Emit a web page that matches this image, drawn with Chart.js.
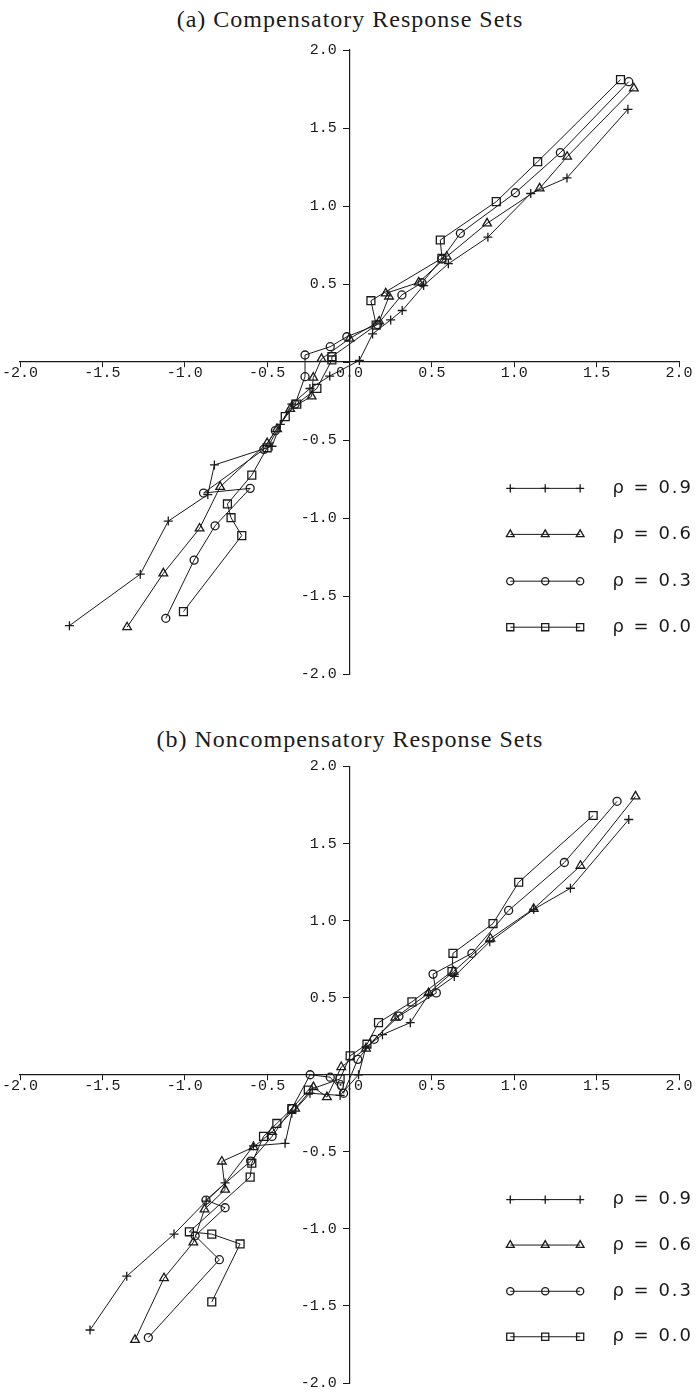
<!DOCTYPE html>
<html>
<head>
<meta charset="utf-8">
<script src="https://cdn.jsdelivr.net/npm/chart.js@4"></script>
<style>
  html, body { margin: 0; padding: 0; background: #fff; }
  #page { position: relative; width: 700px; height: 1395px; overflow: hidden; }
  .title { position: absolute; left: 0; width: 700px; text-align: center;
           font-family: "Liberation Serif", "Times New Roman", serif; font-size: 24px;
           letter-spacing: 1px; line-height: 24px; color: #1a1a1a; white-space: nowrap; }
  .box { position: absolute; left: 0; width: 700px; }
</style>
</head>
<body>
<div id="page">
  <div class="title" style="top:7px;">(a) Compensatory Response Sets</div>
  <div class="box" style="top:0; height:700px;"><canvas id="chartA" width="700" height="700"></canvas></div>
  <div class="title" style="top:727px;">(b) Noncompensatory Response Sets</div>
  <div class="box" style="top:700px; height:695px;"><canvas id="chartB" width="700" height="695"></canvas></div>
</div>
<script>
// ---------- tick labels ----------
const xTickLabels = ['-2.0', '-1.5', '-1.0', '-0.5', '0.0', '0.5', '1.0', '1.5', '2.0'];
const yTickLabels = ['-2.0', '-1.5', '-1.0', '-0.5', '', '0.5', '1.0', '1.5', '2.0'];
const seriesLabels = ['ρ = 0.9', 'ρ = 0.6', 'ρ = 0.3', 'ρ = 0.0'];

// ---------- (a) Compensatory response sets ----------
const compX_rho09 = [-1.70, -1.27, -1.10, -0.86, -0.82, -0.47, -0.42, -0.35, -0.24, -0.12, 0.06, 0.14, 0.25, 0.32, 0.45, 0.60, 0.84, 1.10, 1.32, 1.69];
const compY_rho09 = [-1.69, -1.36, -1.02, -0.85, -0.66, -0.54, -0.40, -0.27, -0.17, -0.09, 0.01, 0.18, 0.27, 0.33, 0.49, 0.63, 0.80, 1.08, 1.18, 1.62];
const compX_rho06 = [-1.35, -1.13, -0.91, -0.785, -0.50, -0.44, -0.36, -0.23, -0.22, -0.17, 0.00, 0.18, 0.24, 0.22, 0.42, 0.59, 0.835, 1.154, 1.321, 1.726];
const compY_rho06 = [-1.70, -1.355, -1.067, -0.80, -0.52, -0.43, -0.30, -0.22, -0.10, 0.02, 0.15, 0.26, 0.42, 0.44, 0.51, 0.675, 0.889, 1.113, 1.316, 1.754];
const compX_rho03 = [-1.115, -0.943, -0.816, -0.603, -0.886, -0.52, -0.45, -0.33, -0.27, -0.27, -0.117, -0.016, 0.17, 0.318, 0.44, 0.56, 0.673, 1.007, 1.28, 1.695];
const compY_rho03 = [-1.643, -1.27, -1.05, -0.81, -0.84, -0.56, -0.44, -0.27, -0.094, 0.045, 0.098, 0.162, 0.24, 0.43, 0.508, 0.66, 0.825, 1.085, 1.342, 1.797];
const compX_rho00 = [-1.008, -0.654, -0.719, -0.741, -0.593, -0.50, -0.39, -0.32, -0.198, -0.107, -0.107, 0.162, 0.13, 0.561, 0.551, 0.891, 1.142, 1.645];
const compY_rho00 = [-1.60, -1.113, -0.998, -0.91, -0.725, -0.55, -0.35, -0.27, -0.169, 0.013, 0.034, 0.237, 0.393, 0.665, 0.782, 1.028, 1.284, 1.81];

// ---------- (b) Noncompensatory response sets ----------
const noncX_rho09 = [-1.575, -1.352, -1.065, -0.87, -0.755, -0.583, -0.391, -0.35, -0.24, -0.057, 0.055, 0.10, 0.20, 0.369, 0.48, 0.636, 0.851, 1.118, 1.341, 1.695];
const noncY_rho09 = [-1.656, -1.307, -1.034, -0.82, -0.702, -0.461, -0.445, -0.25, -0.12, -0.134, 0.0, 0.18, 0.26, 0.338, 0.52, 0.638, 0.863, 1.073, 1.21, 1.656];
const noncX_rho06 = [-1.302, -1.126, -0.948, -0.88, -0.755, -0.775, -0.583, -0.47, -0.33, -0.219, -0.137, -0.05, 0.10, 0.278, 0.48, 0.632, 0.855, 1.118, 1.402, 1.736];
const noncY_rho06 = [-1.72, -1.32, -1.088, -0.873, -0.745, -0.563, -0.47, -0.37, -0.22, -0.08, -0.145, 0.05, 0.17, 0.37, 0.53, 0.67, 0.884, 1.077, 1.356, 1.806];
const noncX_rho03 = [-1.221, -0.79, -0.937, -0.755, -0.871, -0.60, -0.47, -0.35, -0.239, -0.117, -0.036, 0.05, 0.15, 0.30, 0.527, 0.507, 0.743, 0.966, 1.304, 1.624];
const noncY_rho03 = [-1.705, -1.20, -1.045, -0.863, -0.813, -0.56, -0.40, -0.22, 0.0, -0.016, -0.12, 0.10, 0.23, 0.38, 0.531, 0.653, 0.788, 1.066, 1.377, 1.774];
const noncX_rho00 = [-0.836, -0.664, -0.836, -0.972, -0.603, -0.593, -0.522, -0.441, -0.35, -0.25, -0.057, 0.004, 0.106, 0.176, 0.379, 0.622, 0.628, 0.871, 1.027, 1.479];
const noncY_rho00 = [-1.474, -1.098, -1.034, -1.019, -0.664, -0.574, -0.40, -0.316, -0.22, -0.10, -0.027, 0.123, 0.198, 0.338, 0.473, 0.67, 0.788, 0.981, 1.249, 1.682];

// ---------- styling ----------
const INK = '#1a1a1a';
const markerStyles = [
  { pointStyle: 'cross', pointRadius: 4.5 },
  { pointStyle: 'triangle', pointRadius: 5 },
  { pointStyle: 'circle', pointRadius: 4 },
  { pointStyle: 'rect', pointRadius: 5.6 }
];

function zip(xs, ys) { return xs.map((x, i) => ({ x: x, y: ys[i] })); }

function buildDatasets(pairs) {
  return pairs.map((p, i) => Object.assign({
    label: seriesLabels[i],
    data: zip(p[0], p[1]),
    showLine: true,
    borderColor: INK,
    borderWidth: 1,
    pointBorderColor: INK,
    pointBackgroundColor: 'rgba(0,0,0,0)',
    pointBorderWidth: 1.3,
    pointHoverRadius: 0
  }, markerStyles[i]));
}

function drawMarker(ctx, style, r, x, y) {
  ctx.beginPath();
  if (style === 'cross') {
    ctx.moveTo(x - r, y); ctx.lineTo(x + r, y);
    ctx.moveTo(x, y - r); ctx.lineTo(x, y + r);
  } else if (style === 'triangle') {
    ctx.moveTo(x, y - r);
    ctx.lineTo(x + Math.sin(2 * Math.PI / 3) * r, y - Math.cos(2 * Math.PI / 3) * r);
    ctx.lineTo(x + Math.sin(4 * Math.PI / 3) * r, y - Math.cos(4 * Math.PI / 3) * r);
    ctx.closePath();
  } else if (style === 'circle') {
    ctx.arc(x, y, r, 0, Math.PI * 2);
  } else if (style === 'rect') {
    const s = Math.SQRT1_2 * r;
    ctx.rect(x - s, y - s, 2 * s, 2 * s);
  }
  ctx.stroke();
}

const rhoLegend = {
  id: 'rhoLegend',
  afterDatasetsDraw(chart, args, opts) {
    const ctx = chart.ctx;
    const xs = chart.scales.x, ys = chart.scales.y;
    chart.data.datasets.forEach((ds, i) => {
      const py = ys.getPixelForValue(opts.rows[i]);
      const x1 = xs.getPixelForValue(opts.lineFrom);
      const x2 = xs.getPixelForValue(opts.lineTo);
      ctx.save();
      ctx.strokeStyle = INK;
      ctx.lineWidth = ds.borderWidth;
      ctx.beginPath(); ctx.moveTo(x1, py); ctx.lineTo(x2, py); ctx.stroke();
      ctx.lineWidth = ds.pointBorderWidth;
      [x1, (x1 + x2) / 2, x2].forEach(px => drawMarker(ctx, ds.pointStyle, ds.pointRadius * 0.9, px, py));
      ctx.fillStyle = INK;
      ctx.font = '18px "DejaVu Sans"';
      ctx.textBaseline = 'middle';
      ctx.textAlign = 'left';
      try { ctx.letterSpacing = '2px'; } catch (e) {}
      ctx.fillText(ds.label, xs.getPixelForValue(opts.textAt), py);
      ctx.restore();
    });
  }
};

function makeChart(id, pairs, padding) {
  const tickFont = { family: '"Liberation Mono", "DejaVu Sans Mono", monospace', size: 15 };
  return new Chart(document.getElementById(id), {
    type: 'scatter',
    data: { datasets: buildDatasets(pairs) },
    plugins: [rhoLegend],
    options: {
      responsive: false,
      animation: false,
      events: [],
      layout: { padding: padding },
      plugins: {
        legend: { display: false },
        tooltip: { enabled: false },
        title: { display: false },
        rhoLegend: { rows: [-0.81, -1.105, -1.405, -1.70], lineFrom: 0.976, lineTo: 1.40, textAt: 1.596 }
      },
      scales: {
        x: {
          type: 'linear', min: -2, max: 2, position: { y: 0 },
          ticks: {
            stepSize: 0.5, autoSkip: false, maxRotation: 0, color: INK, font: tickFont, padding: -2.5,
            callback: (v, i) => xTickLabels[i]
          },
          grid: { drawOnChartArea: false, drawTicks: true, tickLength: 5, tickColor: INK, tickWidth: 1 },
          border: { display: true, color: INK, width: 1.2 }
        },
        y: {
          type: 'linear', min: -2, max: 2, position: { x: 0 },
          ticks: {
            stepSize: 0.5, autoSkip: false, color: INK, font: tickFont,
            callback: (v, i) => yTickLabels[i] === '' ? '' : yTickLabels[i] + ' \u2005'
          },
          grid: { drawOnChartArea: false, drawTicks: true, tickLength: 6, tickColor: INK, tickWidth: 1 },
          border: { display: true, color: INK, width: 1.2 }
        }
      }
    }
  });
}

makeChart('chartA',
  [[compX_rho09, compY_rho09], [compX_rho06, compY_rho06], [compX_rho03, compY_rho03], [compX_rho00, compY_rho00]],
  { left: 20, right: 21, top: 50, bottom: 26 });

makeChart('chartB',
  [[noncX_rho09, noncY_rho09], [noncX_rho06, noncY_rho06], [noncX_rho03, noncY_rho03], [noncX_rho00, noncY_rho00]],
  { left: 20, right: 21, top: 66.5, bottom: 6.5 });
</script>
</body>
</html>
